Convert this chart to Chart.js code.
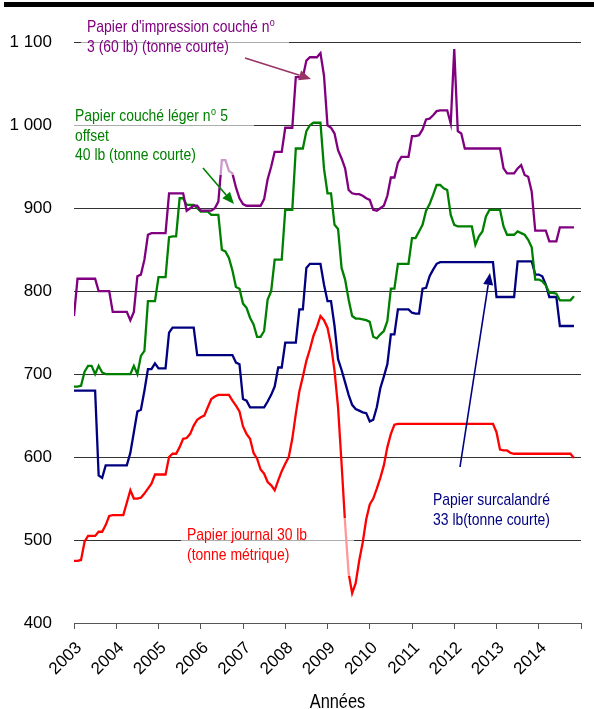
<!DOCTYPE html>
<html lang="fr">
<head>
<meta charset="utf-8">
<script src="https://cdn.jsdelivr.net/npm/chart.js@4.4.1/dist/chart.umd.min.js"></script>
<style>
  html, body { margin: 0; padding: 0; background: #fff; }
  #cadre { position: relative; width: 594px; height: 709px; }
</style>
</head>
<body>
<div id="cadre"><canvas id="graphique"></canvas></div>
<script>
// Prix mensuels, janvier 2003 à novembre 2014 (une ligne par année)
const annees = ['2003', '2004', '2005', '2006', '2007', '2008', '2009', '2010', '2011', '2012', '2013', '2014'];
const graduationsY = ['400', '500', '600', '700', '800', '900', '1 000', '1 100'];

// Papier d'impression couché nº 3 (60 lb), tonne courte
const couche3 = [
  770, 815, 815, 815, 815, 815, 815, 800, 800, 800, 800, 775,
  775, 775, 775, 775, 765, 775, 818, 820, 838, 868, 870, 870,
  870, 870, 870, 918, 918, 918, 918, 918, 897, 900, 903, 903,
  897, 897, 897, 897, 900, 908, 958, 958, 945, 942, 925, 912,
  905, 903, 903, 903, 903, 903, 911, 935, 950, 968, 968, 968,
  997, 997, 997, 1058, 1058, 1058, 1078, 1082, 1082, 1082, 1087, 1060,
  1000, 997, 990, 970, 960, 948, 922, 918, 917, 917, 915, 912,
  910, 898, 897, 900, 903, 915, 937, 937, 955, 962, 962, 962,
  987, 987, 988, 995, 1007, 1008, 1012, 1017, 1018, 1018, 1018, 1002,
  1092, 993, 990, 972, 972, 972, 972, 972, 972, 972, 972, 972,
  972, 972, 948, 942, 942, 942, 948, 952, 940, 938, 920, 873,
  873, 873, 873, 860, 860, 860, 877, 877, 877, 877, 877
];

// Papier couché léger nº 5 offset 40 lb, tonne courte
const coucheLeger5 = [
  685, 685, 686, 703, 710, 710, 700, 710, 702, 700, 700, 700,
  700, 700, 700, 700, 700, 710, 700, 722, 728, 788, 788, 788,
  817, 817, 817, 865, 866, 866, 912, 912, 904, 904, 904, 900,
  896, 896, 896, 892, 892, 892, 850, 848, 840, 825, 805, 803,
  785, 780, 768, 760, 745, 745, 752, 790, 800, 838, 838, 838,
  898, 898, 898, 972, 972, 972, 993, 1000, 1003, 1003, 1003, 948,
  918, 918, 880, 875, 828, 814, 790, 770, 767, 767, 766, 765,
  763, 745, 743, 748, 752, 764, 803, 803, 833, 833, 833, 833,
  864, 864, 872, 880, 897, 905, 916, 928, 928, 924, 922, 892,
  880, 878, 878, 878, 878, 878, 856, 866, 872, 890, 898, 898,
  898, 898, 878, 868, 868, 868, 872, 870, 868, 862, 853, 814,
  814, 812, 807, 798, 798, 797, 789, 789, 789, 789, 794
];

// Papier surcalandré 33 lb, tonne courte
const surcalandre = [
  680, 680, 680, 680, 680, 680, 680, 578, 575, 590, 590, 590,
  590, 590, 590, 590, 605, 630, 655, 657, 680, 706, 706, 713,
  707, 707, 707, 750, 756, 756, 756, 756, 756, 756, 756, 723,
  723, 723, 723, 723, 723, 723, 723, 723, 723, 723, 714, 712,
  670, 668, 660, 660, 660, 660, 660, 667, 675, 685, 708, 708,
  738, 738, 738, 738, 778, 778, 828, 833, 833, 833, 833, 808,
  788, 788, 758, 718, 705, 690, 675, 663, 658, 656, 654, 653,
  643, 645, 660, 683, 697, 712, 748, 748, 778, 778, 778, 778,
  774, 773, 773, 803, 804, 818, 826, 833, 835, 835, 835, 835,
  835, 835, 835, 835, 835, 835, 835, 835, 835, 835, 835, 835,
  793, 793, 793, 793, 793, 793, 836, 836, 836, 836, 836, 820,
  820, 818, 808, 793, 793, 793, 758, 758, 758, 758, 758
];

// Papier journal 30 lb, tonne métrique
const journal = [
  475, 475, 476, 498, 505, 505, 505, 510, 510, 518, 529, 530,
  530, 530, 530, 545, 560, 550, 550, 551, 556, 562, 568, 579,
  579, 579, 579, 600, 604, 604, 612, 622, 623, 628, 638, 645,
  648, 650, 660, 670, 673, 675, 675, 675, 675, 668, 662, 655,
  637, 628, 622, 605, 598, 585, 580, 570, 566, 560, 572, 583,
  592, 600, 622, 652, 679, 697, 716, 730, 746, 757, 770, 765,
  756, 735, 704, 660, 592, 520, 460, 436, 448, 475, 497, 525,
  543, 550, 562, 575, 590, 612, 628, 639, 640, 640, 640, 640,
  640, 640, 640, 640, 640, 640, 640, 640, 640, 640, 640, 640,
  640, 640, 640, 640, 640, 640, 640, 640, 640, 640, 640, 640,
  630, 609, 608, 608, 605, 604, 604, 604, 604, 604, 604, 604,
  604, 604, 604, 604, 604, 604, 604, 604, 604, 604, 599
];

const police = "'Liberation Sans', Arial, sans-serif";
const ETROIT = 0.82; // resserrement horizontal des textes posés à la main

const enPoints = valeurs => valeurs.map((v, i) => ({ x: i, y: v }));

function serie(libelle, valeurs, couleur) {
  return {
    label: libelle,
    data: enPoints(valeurs),
    borderColor: couleur,
    backgroundColor: couleur,
    borderWidth: 2.3,
    pointRadius: 0,
    tension: 0,
    fill: false
  };
}

// Texte resserré ; le caractère qui suit « ^ » est écrit en exposant
function texteEtroit(ctx, texte, x, y, taille, centre) {
  const morceaux = texte.split('^');
  ctx.save();
  ctx.translate(x, y);
  ctx.scale(ETROIT, 1);
  ctx.textAlign = 'left';
  ctx.font = taille + 'px ' + police;
  let largeur = ctx.measureText(morceaux.join('')).width;
  let cx = centre ? -largeur / 2 : 0;
  morceaux.forEach((m, k) => {
    if (k > 0 && m.length) {
      ctx.font = Math.round(taille * 0.62) + 'px ' + police;
      ctx.fillText(m[0], cx + 0.5, -taille * 0.38);
      cx += ctx.measureText(m[0]).width + 1;
      m = m.slice(1);
      ctx.font = taille + 'px ' + police;
    }
    ctx.fillText(m, cx, 0);
    cx += ctx.measureText(m).width;
  });
  ctx.restore();
}

function fleche(ctx, x1, y1, x2, y2, couleur) {
  const angle = Math.atan2(y2 - y1, x2 - x1);
  const long = 12, demi = 5;
  const bx = x2 - long * Math.cos(angle), by = y2 - long * Math.sin(angle);
  ctx.strokeStyle = couleur;
  ctx.fillStyle = couleur;
  ctx.lineWidth = 1.6;
  ctx.beginPath();
  ctx.moveTo(x1, y1);
  ctx.lineTo(bx, by);
  ctx.stroke();
  ctx.beginPath();
  ctx.moveTo(x2, y2);
  ctx.lineTo(bx + demi * Math.sin(angle), by - demi * Math.cos(angle));
  ctx.lineTo(bx - demi * Math.sin(angle), by + demi * Math.cos(angle));
  ctx.closePath();
  ctx.fill();
}

// Étiquettes des séries posées sur un voile blanc translucide, avec leurs flèches
const habillage = {
  id: 'habillage',
  afterDatasetsDraw(chart) {
    const ctx = chart.ctx;
    ctx.save();
    ctx.fillStyle = 'rgba(255,255,255,0.6)';
    ctx.fillRect(81, 14, 208, 44);
    ctx.fillRect(74, 100, 180, 75);
    ctx.fillRect(181, 518, 173, 58);
    ctx.fillRect(428, 484, 128, 48);

    ctx.textBaseline = 'alphabetic';
    const blocs = [
      { couleur: '#800080', x: 87, y: 32, lignes: ["Papier d'impression couché n^o", '3 (60 lb) (tonne courte)'] },
      { couleur: '#008000', x: 75, y: 121, lignes: ['Papier couché léger n^o 5', 'offset', '40 lb (tonne courte)'] },
      { couleur: '#ff0000', x: 187, y: 540, lignes: ['Papier journal 30 lb', '(tonne métrique)'] },
      { couleur: '#000080', x: 433, y: 505, lignes: ['Papier surcalandré', '33 lb(tonne courte)'] }
    ];
    blocs.forEach(b => {
      ctx.fillStyle = b.couleur;
      b.lignes.forEach((t, k) => texteEtroit(ctx, t, b.x, b.y + k * 19.5, 17, false));
    });

    fleche(ctx, 245, 58, 311, 79, '#993366');
    fleche(ctx, 203, 168, 234, 204, '#008000');
    fleche(ctx, 460, 467, 490, 273, '#000080');
    ctx.restore();
  },
  afterDraw(chart) {
    const ctx = chart.ctx;
    ctx.save();
    ctx.fillStyle = '#000';
    ctx.fillRect(4, 2, 590, 5);
    ctx.textBaseline = 'alphabetic';
    texteEtroit(ctx, 'Années', 337.5, 708, 20, true);
    ctx.restore();
  }
};

new Chart(document.getElementById('graphique'), {
  type: 'line',
  data: {
    datasets: [
      serie("Papier d'impression couché nº 3 (60 lb)", couche3, '#800080'),
      serie('Papier couché léger nº 5 offset 40 lb', coucheLeger5, '#008000'),
      serie('Papier surcalandré 33 lb', surcalandre, '#000080'),
      serie('Papier journal 30 lb', journal, '#ff0000')
    ]
  },
  options: {
    responsive: true,
    maintainAspectRatio: false,
    animation: false,
    layout: { padding: { left: 0, right: 13, top: 42.3, bottom: 0 } },
    plugins: {
      legend: { display: false },
      tooltip: { enabled: false }
    },
    scales: {
      x: {
        type: 'linear',
        min: 0,
        max: 144,
        afterFit: s => { s.height = 86; s.paddingRight = 0; },
        border: { display: true, color: '#555', width: 1 },
        grid: { drawOnChartArea: false, drawTicks: true, tickLength: 6, color: '#555' },
        ticks: {
          stepSize: 12,
          autoSkip: false,
          minRotation: 45,
          maxRotation: 45,
          padding: 9,
          labelOffset: 5,
          color: '#000',
          font: { family: police, size: 17 },
          callback: v => annees[v / 12] ?? ''
        }
      },
      y: {
        min: 400,
        max: 1100,
        afterFit: s => { s.width = 74; },
        border: { display: false },
        grid: { drawTicks: false, color: '#333', lineWidth: 1 },
        ticks: {
          stepSize: 100,
          padding: 22,
          color: '#000',
          font: { family: police, size: 17 },
          callback: v => graduationsY[(v - 400) / 100]
        }
      }
    }
  },
  plugins: [habillage]
});
</script>
</body>
</html>
